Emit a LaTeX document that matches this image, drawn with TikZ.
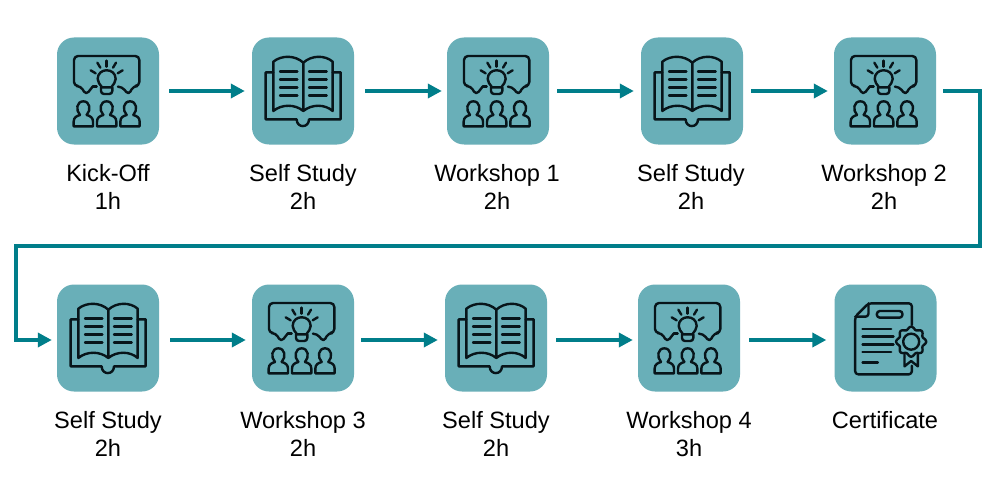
\documentclass[tikz,border=0pt]{standalone}
\usepackage{fontspec}
\setmainfont{Liberation Sans}
\usetikzlibrary{arrows.meta}
\definecolor{boxfill}{HTML}{69AFB8}
\definecolor{flow}{HTML}{007E8A}
\definecolor{ink}{HTML}{08151A}
\tikzset{
  x=1pt,y=-1pt,
  tile/.style={fill=boxfill,rounded corners=17pt,minimum width=102pt,minimum height=107pt,inner sep=0pt,draw=none},
  caption/.style={align=center,font=\fontsize{23.6}{28.5}\selectfont,inner sep=0pt,text=black},
  flowline/.style={draw=flow,line width=4pt,-{Triangle[length=14pt,width=14pt]}},
  iconline/.style={draw=ink,line width=2.4pt,line cap=round,line join=round},
  pics/workshop/.style={code={
    \begin{scope}[x=0.3333pt,y=-0.3333pt,shift={(-174,-183)},iconline]
      \draw[rounded corners=4pt] (128,170) -- (108,195) -- (92,168) -- (72,168) -- (72,78) -- (268,78) -- (268,168) -- (250,168) -- (236,195) -- (216,170) -- (205,170);
      \draw (128,170) -- (140,170);
      \draw (156,172) .. controls (150,162) and (143,158) .. (143,147) .. controls (143,112) and (197,112) .. (197,147) .. controls (197,158) and (190,162) .. (184,172) -- cycle;
      \draw[rounded corners=3pt] (153,172) -- (153,192) -- (187,192) -- (187,172);
      \draw (170,92) -- (170,110);
      \draw (142,98) -- (151,113);
      \draw (198,98) -- (189,113);
      \draw (122,121) -- (137,130);
      \draw (218,121) -- (203,130);
      \foreach \c in {100,170,240}{
        \draw (\c-10,255) .. controls (\c-24,240) and (\c-20,214) .. (\c,214) .. controls (\c+20,214) and (\c+24,240) .. (\c+10,255);
        \draw (\c-10,255) .. controls (\c-20,258) and (\c-29,262) .. (\c-29,275) -- (\c-29,289) -- (\c+29,289) -- (\c+29,275) .. controls (\c+29,262) and (\c+20,258) .. (\c+10,255);
      }
    \end{scope}
  }},
  pics/bookicon/.style={code={
    \begin{scope}[x=0.3333pt,y=-0.3333pt,shift={(-174,-183)},iconline]
      \draw (85,127) -- (62,127) -- (62,268) -- (155,268) .. controls (155,295) and (192,295) .. (192,268) -- (287,268) -- (287,127) -- (263,127);
      \draw (175,98) .. controls (150,75) and (110,75) .. (85,95) -- (85,243) .. controls (110,222) and (150,222) .. (175,243) .. controls (200,222) and (240,222) .. (263,243) -- (263,95) .. controls (240,75) and (200,75) .. (175,98) -- (175,243);
      \foreach \y in {124,148,172,197}{
        \draw (105,\y) -- (157,\y);
        \draw (192,\y) -- (245,\y);
      }
    \end{scope}
  }},
  pics/certicon/.style={code={
    \begin{scope}[x=0.3333pt,y=-0.3333pt,shift={(-181,-189)},iconline]
      \draw[rounded corners=3pt] (260,150) -- (260,85) -- (130,85) -- (90,125) -- (90,298) -- (260,298) -- (260,272);
      \draw[rounded corners=3pt] (90,125) -- (130,125) -- (130,85);
      \draw[rounded corners=3pt] (155,108) rectangle (232,128);
      \draw (112,162) -- (198,162);
      \draw (112,185) -- (205,185);
      \draw (112,208) -- (205,208);
      \draw (112,231) -- (198,231);
      \draw (112,263) -- (158,263);
      \draw (258,200) circle [radius=24];
      \draw plot[domain=0:360,samples=121,smooth] ({258+(41+4*cos(8*\x))*cos(\x)},{200+(41+4*cos(8*\x))*sin(\x)});
      \draw (238,238) -- (238,274) -- (258,258) -- (278,274) -- (278,238);
    \end{scope}
  }},
}
\begin{document}
\begin{tikzpicture}
\useasboundingbox (0,0) rectangle (1000,500);
\fill[white] (0,0) rectangle (1000,500);
% row 1
\node[tile] (a1) at (108,91) {};
\node[tile] (a2) at (303,91) {};
\node[tile] (a3) at (498,91) {};
\node[tile] (a4) at (692,91) {};
\node[tile] (a5) at (885,91) {};
% row 2
\node[tile] (b1) at (108,338) {};
\node[tile] (b2) at (303,338) {};
\node[tile] (b3) at (496,338) {};
\node[tile] (b4) at (689,338) {};
\node[tile] (b5) at (885.5,338) {};
\pic at (a1) {workshop};
\pic at (a2) {bookicon};
\pic at (a3) {workshop};
\pic at (a4) {bookicon};
\pic at (a5) {workshop};
\pic at (b1) {bookicon};
\pic at (b2) {workshop};
\pic at (b3) {bookicon};
\pic at (b4) {workshop};
\pic at (b5) {certicon};
% captions
\node[caption] (ca1) at (108,187) {Kick-Off\\1h};
\node[caption] (ca2) at (303,187) {Self Study\\2h};
\node[caption] (ca3) at (497,187) {Workshop 1\\2h};
\node[caption] (ca4) at (691,187) {Self Study\\2h};
\node[caption] (ca5) at (884,187) {Workshop 2\\2h};
\node[caption] (cb1) at (108,434) {Self Study\\2h};
\node[caption] (cb2) at (303,434) {Workshop 3\\2h};
\node[caption] (cb3) at (496,434) {Self Study\\2h};
\node[caption] (cb4) at (689,434) {Workshop 4\\3h};
\node[caption,anchor=north] (cb5) at (885,411) {Certificate};
% connectors
\coordinate (r1) at (980,246);
\coordinate (l1) at (16,246);
\coordinate (l2) at (16,340);
\draw[flowline,shorten <=10pt,shorten >=7pt] (a1) -- (a2);
\draw[flowline,shorten <=11pt,shorten >=5pt] (a2) -- (a3);
\draw[flowline,shorten <=8pt,shorten >=7pt] (a3) -- (a4);
\draw[flowline,shorten <=8pt,shorten >=6pt] (a4) -- (a5);
\draw[flowline,line join=miter,shorten <=7pt,shorten >=5pt] (a5.east) -| (r1) -- (l1) -- (l2) -- ([yshift=-2pt]b1.west);
\draw[flowline,shorten <=11pt,shorten >=6pt] ([yshift=-2pt]b1.east) -- ([yshift=-2pt]b2.west);
\draw[flowline,shorten <=7pt,shorten >=7pt] ([yshift=-2pt]b2.east) -- ([yshift=-2pt]b3.west);
\draw[flowline,shorten <=9pt,shorten >=5pt] ([yshift=-2pt]b3.east) -- ([yshift=-2pt]b4.west);
\draw[flowline,shorten <=9pt,shorten >=8pt] ([yshift=-2pt]b4.east) -- ([yshift=-2pt]b5.west);
\end{tikzpicture}
\end{document}
